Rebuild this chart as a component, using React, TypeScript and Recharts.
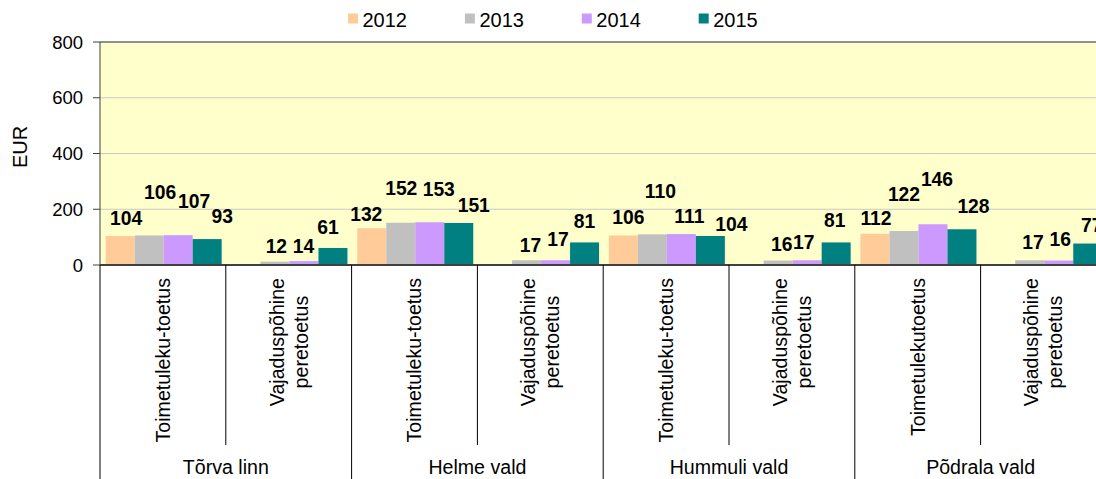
import React from 'react';
import { BarChart, Bar, XAxis, YAxis, CartesianGrid, ReferenceLine, LabelList } from 'recharts';

// ---------- data ----------
const categories = [
  'Toimetuleku-toetus',
  'Vajaduspõhine\nperetoetus',
  'Toimetuleku-toetus',
  'Vajaduspõhine\nperetoetus',
  'Toimetuleku-toetus',
  'Vajaduspõhine\nperetoetus',
  'Toimetulekutoetus',
  'Vajaduspõhine\nperetoetus',
];
const groups = ['Tõrva linn', 'Helme vald', 'Hummuli vald', 'Põdrala vald'];
const years = ['2012', '2013', '2014', '2015'];
const values2012 = [104, null, 132, null, 106, null, 112, null];
const values2013 = [106, 12, 152, 17, 110, 16, 122, 17];
const values2014 = [107, 14, 153, 17, 111, 17, 146, 16];
const values2015 = [93, 61, 151, 81, 104, 81, 128, 77];
const yTicks = [0, 200, 400, 600, 800];
const yTitle = 'EUR';

// ---------- styles ----------
const colors = ['#FFCC99', '#C0C0C0', '#CC99FF', '#008080'];
// manual label nudges (dx, dy of label centre from bar top-centre), as in the original
const labelShift2012 = [[6, -18], null, [-5.5, -14.5], null, [5, -18], null, [1, -16], null];
const labelShift2013 = [[11, -43], [1.4, -16], [0.5, -34.6], [4, -15], [8, -43], [3.5, -16.5], [0, -37], [3.3, -18]];
const labelShift2014 = [[16, -34], [-0.5, -15.3], [9, -33], [2.5, -21], [8, -18], [-3.5, -18], [4, -45], [1.5, -21]];
const labelShift2015 = [[15, -23], [-5, -21.3], [15, -18], [0, -21.5], [21, -12], [-1.5, -22], [11.5, -23], [4, -18]];

const FONT = '"Liberation Sans", Arial, Helvetica, sans-serif';
const CHART_W = 1120;
const CHART_H = 479;
const PLOT_LEFT = 100;
const PLOT_RIGHT = 1106.4;
const PLOT_TOP = 42;
const PLOT_BOTTOM = 265;
const BAND = (PLOT_RIGHT - PLOT_LEFT) / categories.length;
const CAT_FS = 19.6;

const seriesShifts = [labelShift2012, labelShift2013, labelShift2014, labelShift2015];

const data = categories.map((cat, i) => ({
  idx: i,
  cat,
  y2012: values2012[i],
  y2013: values2013[i],
  y2014: values2014[i],
  y2015: values2015[i],
}));

let ctx: CanvasRenderingContext2D | null = null;
function measure(text: string, size: number): number {
  try {
    if (!ctx) ctx = document.createElement('canvas').getContext('2d');
    if (ctx) {
      ctx.font = `${size}px "Liberation Sans", Arial, sans-serif`;
      return ctx.measureText(text).width;
    }
  } catch (e) {}
  return text.length * size * 0.5;
}

const CategoryTick = (props: any) => {
  const { x, y, payload } = props;
  const i = Number(payload.value);
  const lines = categories[i].split('\n');
  const left = x - BAND / 2;
  const isGroupStart = i % 2 === 0;
  const maxW = Math.max(...lines.map((l) => measure(l, CAT_FS)));
  const cy = y + 13 + maxW / 2;
  return (
    <g>
      <line x1={left} x2={left} y1={y} y2={isGroupStart ? y + 240 : y + 180} stroke="#000" strokeWidth={1} />
      {i === categories.length - 1 && (
        <line x1={x + BAND / 2} x2={x + BAND / 2} y1={y} y2={y + 240} stroke="#000" strokeWidth={1} />
      )}
      {lines.map((l, k) => {
        const lx = x + (k - (lines.length - 1) / 2) * 24;
        return (
          <text
            key={k}
            x={lx}
            y={cy}
            transform={`rotate(-90 ${lx} ${cy})`}
            textAnchor="middle"
            dominantBaseline="central"
            fontSize={CAT_FS}
            fontFamily={FONT}
            fill="#000"
          >
            {l}
          </text>
        );
      })}
      {isGroupStart && (
        <text x={x + BAND / 2} y={y + 209} textAnchor="middle" fontSize={CAT_FS} fontFamily={FONT} fill="#000">
          {groups[i / 2]}
        </text>
      )}
    </g>
  );
};

const makeLabel = (shifts: any[]) => (props: any) => {
  const { x, y, width, value } = props;
  if (value === null || value === undefined || value === '') return null;
  const centre = Number(x) + Number(width) / 2;
  const catIndex = Math.floor((centre - PLOT_LEFT) / BAND);
  const s = shifts[catIndex];
  if (!s) return null;
  const cx = centre + s[0];
  const cy = Number(y) + s[1];
  return (
    <text x={cx} y={cy + 6.9} textAnchor="middle" fontSize={19.3} fontWeight="bold" fontFamily={FONT} fill="#000">
      {value}
    </text>
  );
};

const EurLabel = () => (
  <text
    x={20}
    y={147}
    transform="rotate(-90 20 147)"
    textAnchor="middle"
    dominantBaseline="central"
    fontSize={20}
    fontFamily={FONT}
    fill="#000"
  >
    {yTitle}
  </text>
);

export default function App() {
  return (
    <div
      style={{
        position: 'fixed',
        left: 0,
        top: 0,
        width: 1096,
        height: 479,
        overflow: 'hidden',
        background: '#fff',
        fontFamily: FONT,
      }}
    >
      <BarChart
        width={CHART_W}
        height={CHART_H}
        data={data}
        margin={{ top: PLOT_TOP, right: CHART_W - PLOT_RIGHT, left: 0, bottom: 0 }}
        barCategoryGap="4.5%"
        barGap={0}
      >
        <CartesianGrid vertical={false} stroke="#C8C8C8" fill="#FFFFCC" />
        <XAxis
          dataKey="idx"
          type="category"
          interval={0}
          height={CHART_H - PLOT_BOTTOM}
          tickSize={0}
          tickMargin={0}
          tickLine={false}
          axisLine={{ stroke: '#404040', strokeWidth: 2 }}
          tick={<CategoryTick />}
        />
        <YAxis
          type="number"
          domain={[0, 800]}
          ticks={yTicks}
          interval={0}
          width={PLOT_LEFT}
          tickSize={7}
          tickMargin={10}
          axisLine={{ stroke: '#404040' }}
          tickLine={{ stroke: '#404040' }}
          tick={{ fill: '#000', fontSize: 18.5, fontFamily: FONT }}
          label={{ value: yTitle, content: <EurLabel /> }}
        />
        <ReferenceLine y={800} stroke="#404040" strokeWidth={1} />
        {years.map((yr, s) => (
          <Bar key={yr} dataKey={`y${yr}`} name={yr} fill={colors[s]} isAnimationActive={false}>
            <LabelList dataKey={`y${yr}`} content={makeLabel(seriesShifts[s])} />
          </Bar>
        ))}
      </BarChart>
      <svg width={1096} height={40} style={{ position: 'absolute', left: 0, top: 0, pointerEvents: 'none' }}>
        {years.map((yr, s) => {
          const lx = 348 + s * 116.9;
          return (
            <g key={yr}>
              <rect x={lx} y={13.5} width={10} height={10} fill={colors[s]} />
              <text x={lx + 14.5} y={26.7} fontSize={20} fontFamily={FONT} fill="#000">
                {yr}
              </text>
            </g>
          );
        })}
      </svg>
    </div>
  );
}
